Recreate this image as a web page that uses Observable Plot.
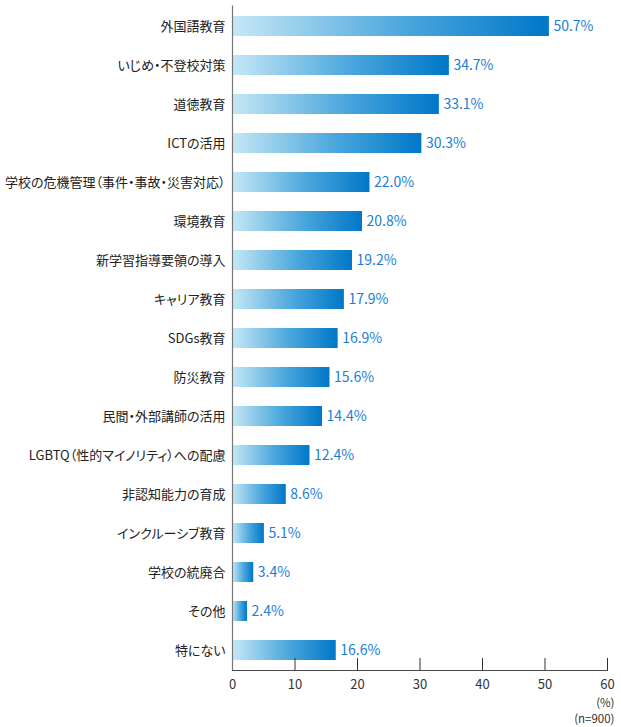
<!DOCTYPE html>
<html lang="ja">
<head>
<meta charset="utf-8">
<script src="https://cdn.jsdelivr.net/npm/d3@7"></script>
<script src="https://cdn.jsdelivr.net/npm/@observablehq/plot@0.6"></script>
<style>
  html, body { margin: 0; padding: 0; background: #fff; }
  #chart svg { display: block; }
  /* proportional punctuation so the long labels stay compact */
  #chart svg text { font-feature-settings: "palt"; }
</style>
</head>
<body>
<div id="chart"></div>
<script>
// Survey themes (n=900) and share of respondents, %
const categories = [
  "外国語教育",
  "いじめ・不登校対策",
  "道徳教育",
  "ICTの活用",
  "学校の危機管理（事件・事故・災害対応）",
  "環境教育",
  "新学習指導要領の導入",
  "キャリア教育",
  "SDGs教育",
  "防災教育",
  "民間・外部講師の活用",
  "LGBTQ（性的マイノリティ）への配慮",
  "非認知能力の育成",
  "インクルーシブ教育",
  "学校の統廃合",
  "その他",
  "特にない"
];
const values = [50.7, 34.7, 33.1, 30.3, 22.0, 20.8, 19.2, 17.9, 16.9, 15.6, 14.4, 12.4, 8.6, 5.1, 3.4, 2.4, 16.6];
const xTicks = [0, 10, 20, 30, 40, 50, 60];
const unitNotes = ["(%)", "(n=900)"];

const data = categories.map((label, i) => ({label, value: values[i]}));

const font = "'Noto Sans CJK JP', 'Noto Sans', sans-serif";

const chart = Plot.plot({
  width: 621,
  height: 727,
  marginLeft: 232,
  marginRight: 14,
  marginTop: 5.5,
  marginBottom: 57,
  style: {fontFamily: font, color: "#222", background: "#fff"},
  x: {domain: [0, 60], ticks: xTicks, label: null},
  y: {domain: categories, paddingInner: 0.5, paddingOuter: 0.25, label: null},
  marks: [
    Plot.barX(data, {x: "value", y: "label", fill: "url(#barGradient)"}),
    Plot.text(data, {
      x: "value", y: "label",
      text: d => d.value.toFixed(1) + "%",
      textAnchor: "start", dx: 4, fill: "#1a80d4", fontSize: 14
    }),
    // short upward ticks at each gridline value
    Plot.gridX(xTicks.slice(1), {stroke: "#333", strokeOpacity: 1, insetTop: 652.5}),
    Plot.ruleX([0], {stroke: "#777", strokeWidth: 1.2}),
    Plot.frame({anchor: "bottom", stroke: "#444"}),
    Plot.axisY({tickSize: 0, tickPadding: 7, fontSize: 13, fill: "#222"}),
    Plot.axisX({ticks: xTicks, tickSize: 0, tickPadding: 9, fontSize: 13, fill: "#333", label: null}),
    Plot.text(unitNotes, {
      text: d => d,
      frameAnchor: "bottom-right",
      textAnchor: "end",
      dx: 7,
      fontSize: 11.5,
      fill: "#333"
    })
  ]
});

// per-bar horizontal gradient: pale cyan on the left to saturated blue on the right
const svg = d3.select(chart);
const grad = svg.insert("defs", ":first-child")
  .append("linearGradient")
  .attr("id", "barGradient")
  .attr("x1", "0").attr("x2", "1").attr("y1", "0").attr("y2", "0");
grad.append("stop").attr("offset", "0%").attr("stop-color", "#c6e8f6");
grad.append("stop").attr("offset", "55%").attr("stop-color", "#4aa6dc");
grad.append("stop").attr("offset", "100%").attr("stop-color", "#0077c8");

// stack the two unit notes under the right end of the axis
svg.selectAll("text").filter(function () {
  return unitNotes.includes(this.textContent);
}).each(function () {
  const t = d3.select(this);
  const i = unitNotes.indexOf(this.textContent);
  t.attr("transform", (t.attr("transform") || "") + ` translate(0, ${36 + i * 16})`);
});

document.getElementById("chart").append(chart);
</script>
</body>
</html>
